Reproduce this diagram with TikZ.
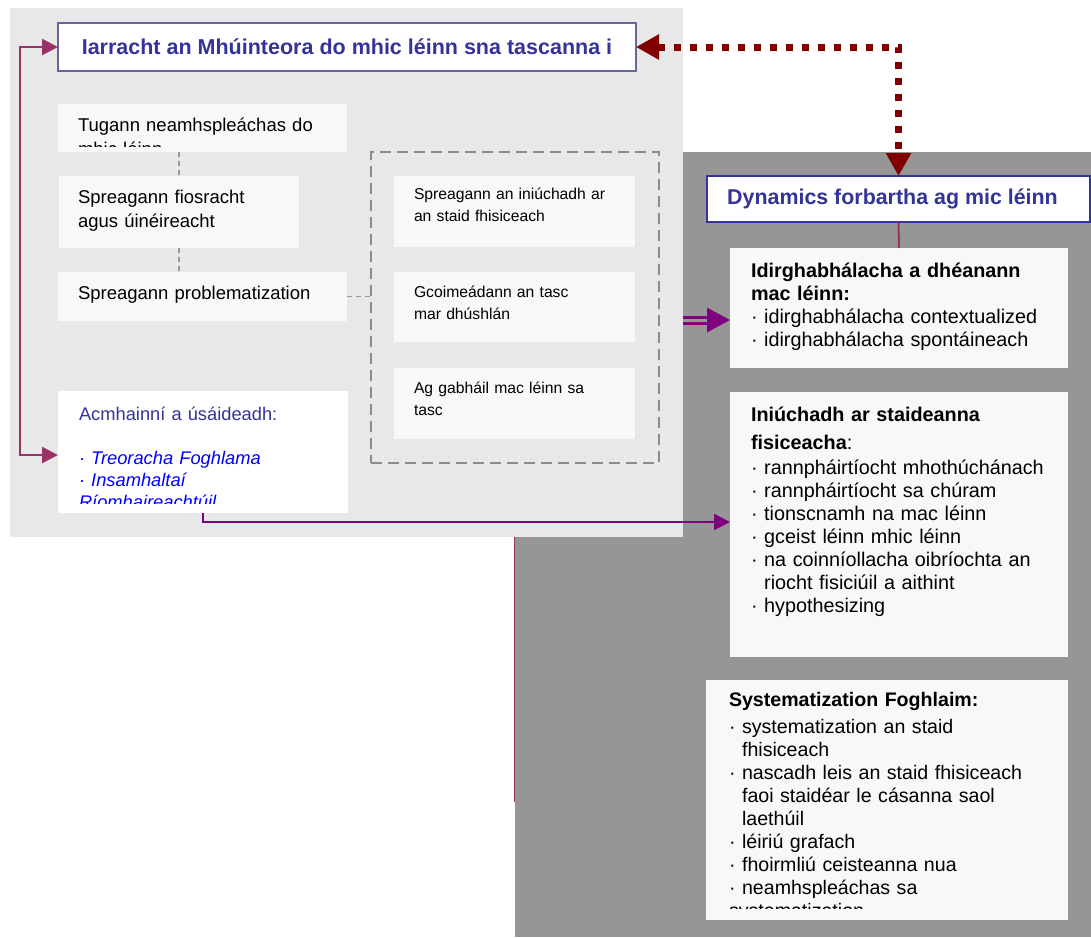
\documentclass[tikz,border=0pt]{standalone}
\usepackage{fontspec}
\setmainfont{Liberation Sans}
\usetikzlibrary{arrows.meta}
\definecolor{lightpanel}{HTML}{E8E8E8}
\definecolor{darkpanel}{HTML}{969696}
\definecolor{boxfill}{HTML}{F8F8F8}
\definecolor{navy}{HTML}{333399}
\definecolor{slate}{HTML}{666699}
\definecolor{maroonc}{HTML}{800000}
\definecolor{pinkline}{HTML}{993366}
\definecolor{purp}{HTML}{800080}
\definecolor{dgray}{HTML}{8C8C8C}
\definecolor{cgray}{HTML}{9A9A9A}
\definecolor{itemblue}{HTML}{0000FF}
\newlength\bulw
\newcommand\fsz[2]{\fontsize{#1}{#2}\selectfont\parindent=0pt}
\newcommand\setbul{\settowidth{\bulw}{·\ }}
\newcommand\itm{\par\hangindent=\bulw\hangafter=1 ·\ }
\tikzset{
  x=1pt, y=-1pt,
  pane/.style={anchor=north west, inner sep=0pt, outer sep=0pt},
  lbox/.style={pane, fill=boxfill},
  txt/.style={anchor=north west, inner sep=0pt, outer sep=0pt, align=left},
  pk/.style={draw=pinkline, line width=2.5pt, >={Triangle[length=16pt,width=16pt]}, <->},
  dots/.style={draw=maroonc, line width=7pt, dash pattern=on 7pt off 9pt, >={Triangle[length=23pt,width=24pt]}, <->},
  parr/.style={draw=purp, line width=2.5pt, >={Triangle[length=16pt,width=16pt]}, ->},
  dconn/.style={draw=cgray, line width=1.5pt, dash pattern=on 5pt off 4pt},
}
\begin{document}
\begin{tikzpicture}
\useasboundingbox[fill=white] (0,0) rectangle (1091,937);
% panels
\fill[darkpanel] (515,152) rectangle (1091,937);
\fill[lightpanel] (10,8) rectangle (683,537);
\coordinate (pl1) at (514.5,537);
\coordinate (pl2) at (514.5,802);
\draw[draw=pinkline, line width=1.5pt] (pl1) -- (pl2);

% title boxes
\node[pane, fill=white, draw=slate, line width=1.5pt, minimum width=578pt, minimum height=48pt,
      font=\bfseries\fsz{21.5}{24}, text=navy] (title) at (58,23) {Iarracht an Mhúinteora do mhic léinn sna tascanna i};
\node[pane, fill=white, draw=navy, line width=2pt, minimum width=383pt, minimum height=46pt] (dyn) at (707,176) {};
\node[anchor=west, inner sep=0pt, font=\bfseries\fsz{21.4}{24}, text=navy] (dyntxt) at (727,199) {Dynamics forbartha ag mic léinn};

% left column boxes
\node[lbox, minimum width=289pt, minimum height=48pt] (tug) at (58,104) {};
\node[lbox, minimum width=240pt, minimum height=72pt] (fio) at (59,176) {};
\node[lbox, minimum width=289pt, minimum height=49pt] (prob) at (58,272) {};
\node[pane, fill=white, minimum width=290pt, minimum height=122pt] (acm) at (58,391) {};

\begin{scope}
\clip (58,104) rectangle (347,146);
\node[txt, text width=280pt, font=\fsz{18.5}{24}] (tugt) at (78,115) {\strut Tugann neamhspleáchas do\\mhic léinn};
\end{scope}
\node[txt, text width=230pt, font=\fsz{18.5}{24}] (fiot) at (78,187) {\strut Spreagann fiosracht\\agus úinéireacht};
\node[txt, text width=270pt, font=\fsz{18.5}{24}] (probt) at (78,283) {\strut Spreagann problematization};
\begin{scope}
\clip (58,391) rectangle (348,503);
\node[txt, text width=270pt, font=\fsz{18.3}{22}, text=navy] (acmt) at (79,405)
  {\setbul\strut Acmhainní a úsáideadh:\par\strut\par\color{itemblue}\itshape\itm Treoracha Foghlama\itm Insamhaltaí\newline Ríomhaireachtúil};
\end{scope}

% dashed group
\node[pane, draw=dgray, line width=2pt, dash pattern=on 11pt off 6pt, minimum width=288pt, minimum height=311pt] (dbox) at (371,152) {};
\node[lbox, minimum width=241pt, minimum height=71pt] (in1) at (394,176) {};
\node[lbox, minimum width=241pt, minimum height=70pt] (in2) at (394,272) {};
\node[lbox, minimum width=241pt, minimum height=71pt] (in3) at (394,368) {};
\node[txt, text width=225pt, font=\fsz{15.7}{22}] (in1t) at (414,184) {\strut Spreagann an iniúchadh ar\\an staid fhisiceach};
\node[txt, text width=225pt, font=\fsz{15.7}{22}] (in2t) at (414,282) {\strut Gcoimeádann an tasc\\mar dhúshlán};
\node[txt, text width=225pt, font=\fsz{15.7}{22}] (in3t) at (414,378) {\strut Ag gabháil mac léinn sa\\tasc};

% right column boxes
\node[lbox, minimum width=338pt, minimum height=120pt] (idir) at (730,248) {};
\node[lbox, minimum width=338pt, minimum height=265pt] (inu) at (730,392) {};
\node[lbox, minimum width=362pt, minimum height=240pt] (sys) at (706,680) {};

\node[txt, text width=315pt, font=\fsz{19.8}{23}] (idirt) at (751,261)
  {\setbul\strut\textbf{Idirghabhálacha a dhéanann}\\\textbf{mac léinn:}\itm idirghabhálacha contextualized\itm idirghabhálacha spontáineach};
\node[txt, text width=315pt, font=\fsz{19.8}{23}] (inut) at (751,405)
  {\setbul\strut\textbf{Iniúchadh ar staideanna}\\[5pt]\textbf{fisiceacha}:\par\vspace{2pt}\itm rannpháirtíocht mhothúchánach\itm rannpháirtíocht sa chúram\itm tionscnamh na mac léinn\itm gceist léinn mhic léinn\itm na coinníollacha oibríochta an\newline riocht fisiciúil a aithint\itm hypothesizing};
\begin{scope}
\clip (706,680) rectangle (1068,908);
\node[txt, text width=335pt, font=\fsz{19.6}{23}] (syst) at (729,690)
  {\setbul\strut\textbf{Systematization Foghlaim:}\par\vspace{4pt}\itm systematization an staid\newline fhisiceach\itm nascadh leis an staid fhisiceach\newline faoi staidéar le cásanna saol\newline laethúil\itm léiriú grafach\itm fhoirmliú ceisteanna nua\itm neamhspleáchas sa\newline systematization};
\end{scope}

% connectors
\draw[dconn] (fio.north |- tug.south) -- (fio.north);
\draw[dconn] (fio.south) -- (fio.south |- prob.north);
\draw[dconn] (prob.east) -- (prob.east -| dbox.west);

\coordinate (lt) at (20,47);
\coordinate (lb) at (20,455);
\draw[pk] (title.west) -- (lt) -- (lb) -- (acm.west |- lb);

\draw[dots] (title.east) -| (dyn.north);

\draw[draw=pinkline, line width=2pt] (dyn.south) -- (idir.north);

\coordinate (ab) at (203,522);
\draw[parr] (acm.south -| ab) -- (ab) -- (inu.west |- ab);

\coordinate (ds) at (683,320);
\draw[draw=purp, line width=3pt, double=darkpanel, double distance=3pt, >={Triangle[length=23pt,width=24pt]}, ->] (ds) -- (idir.west |- ds);
\end{tikzpicture}
\end{document}
